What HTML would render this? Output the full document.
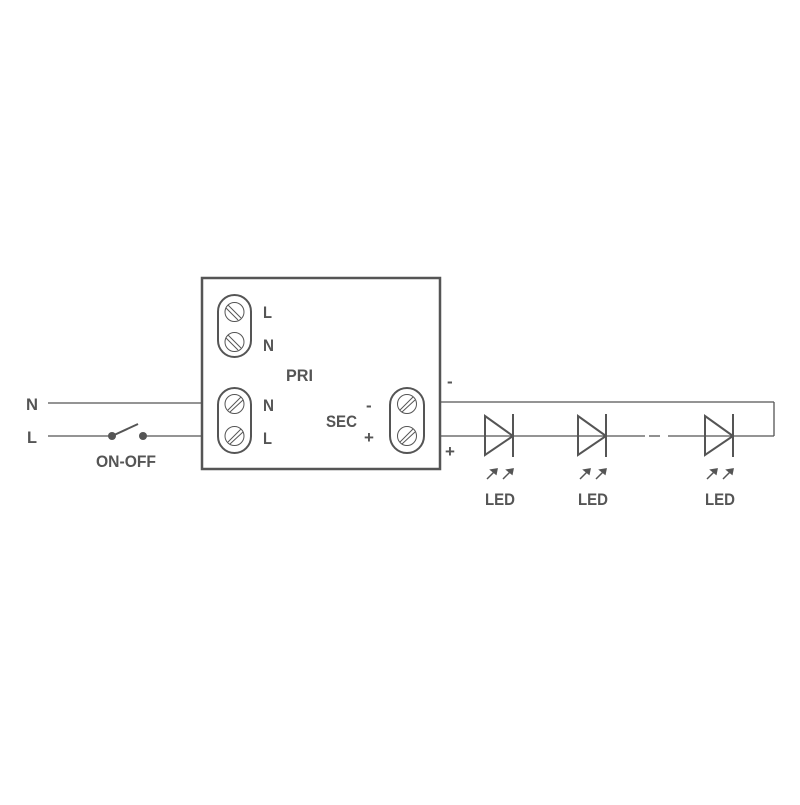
<!DOCTYPE html>
<html><head><style>body{margin:0;background:#fff}</style></head><body>
<svg width="800" height="800" viewBox="0 0 800 800" xmlns="http://www.w3.org/2000/svg">
<g stroke="#555" fill="none" stroke-width="1.3">
<line x1="48" y1="403" x2="202" y2="403"/>
<line x1="48" y1="436" x2="112" y2="436"/>
<line x1="143" y1="436" x2="202" y2="436"/>
<line x1="112" y1="436" x2="138" y2="424" stroke-width="2"/>
<line x1="440" y1="402" x2="774" y2="402"/>
<line x1="774" y1="402" x2="774" y2="436"/>
<line x1="440" y1="436" x2="645" y2="436"/>
<line x1="668" y1="436" x2="774" y2="436"/>
</g>
<line x1="649" y1="436" x2="660" y2="436" stroke="#555" stroke-width="1.3"/>
<circle cx="112" cy="436" r="4" fill="#555"/><circle cx="143" cy="436" r="4" fill="#555"/>
<rect x="202" y="278" width="238" height="191" fill="#fff" stroke="#555" stroke-width="2.5"/>
<g stroke="#555" fill="#fff" stroke-width="2">
<rect x="218" y="295" width="33" height="62" rx="16.5"/>
<rect x="218" y="388" width="33" height="65" rx="16.5"/>
<rect x="390" y="388" width="34" height="65" rx="17"/>
</g>
<g stroke="#555" fill="none" stroke-width="1">
<circle cx="234.5" cy="312" r="9.5"/><circle cx="234.5" cy="342" r="9.5"/>
<line x1="228" y1="305" x2="241" y2="318"/><line x1="226" y1="308" x2="238" y2="320"/>
<line x1="228" y1="335" x2="241" y2="348"/><line x1="226" y1="338" x2="238" y2="350"/>
<circle cx="234.5" cy="404" r="9.5"/><circle cx="234.5" cy="436" r="9.5"/>
<line x1="228" y1="410" x2="241" y2="397"/><line x1="230" y1="412" x2="243" y2="400"/>
<line x1="228" y1="442" x2="241" y2="429"/><line x1="230" y1="444" x2="243" y2="432"/>
<circle cx="407" cy="404" r="9.5"/><circle cx="407" cy="436" r="9.5"/>
<line x1="400" y1="410" x2="413" y2="397"/><line x1="402" y1="412" x2="415" y2="400"/>
<line x1="400" y1="442" x2="413" y2="429"/><line x1="402" y1="444" x2="415" y2="432"/>
</g>
<g stroke="#555" fill="none" stroke-width="2">
<path d="M485 416 L513 436 L485 455 Z"/><line x1="513" y1="414" x2="513" y2="457"/>
<path d="M578 416 L606 436 L578 455 Z"/><line x1="606" y1="414" x2="606" y2="457"/>
<path d="M705 416 L733 436 L705 455 Z"/><line x1="733" y1="414" x2="733" y2="457"/>
</g>
<g stroke="#555" stroke-width="1.5" fill="#555">
<line x1="487" y1="479" x2="495" y2="471"/><path d="M497 469 L491 470 L496 474 Z"/>
<line x1="503" y1="479" x2="511" y2="471"/><path d="M513 469 L507 470 L512 474 Z"/>
<line x1="580" y1="479" x2="588" y2="471"/><path d="M590 469 L584 470 L589 474 Z"/>
<line x1="596" y1="479" x2="604" y2="471"/><path d="M606 469 L600 470 L605 474 Z"/>
<line x1="707" y1="479" x2="715" y2="471"/><path d="M717 469 L711 470 L716 474 Z"/>
<line x1="723" y1="479" x2="731" y2="471"/><path d="M733 469 L727 470 L732 474 Z"/>
</g>
<g font-family="Liberation Sans, sans-serif" font-weight="bold" fill="#555" font-size="17" lengthAdjust="spacingAndGlyphs">
<text x="26" y="410" textLength="12" lengthAdjust="spacingAndGlyphs">N</text>
<text x="27" y="443" textLength="10" lengthAdjust="spacingAndGlyphs">L</text>
<text x="96" y="467" textLength="60" lengthAdjust="spacingAndGlyphs">ON-OFF</text>
<text x="263" y="318" textLength="9" lengthAdjust="spacingAndGlyphs">L</text>
<text x="263" y="351" textLength="11" lengthAdjust="spacingAndGlyphs">N</text>
<text x="286" y="381" textLength="27" lengthAdjust="spacingAndGlyphs">PRI</text>
<text x="263" y="411" textLength="11" lengthAdjust="spacingAndGlyphs">N</text>
<text x="263" y="444" textLength="9" lengthAdjust="spacingAndGlyphs">L</text>
<text x="326" y="427" textLength="31" lengthAdjust="spacingAndGlyphs">SEC</text>
<text x="366" y="411">-</text><text x="364" y="443">+</text>
<text x="447" y="387">-</text><text x="445" y="457">+</text>
<text x="485" y="505" textLength="30" lengthAdjust="spacingAndGlyphs">LED</text>
<text x="578" y="505" textLength="30" lengthAdjust="spacingAndGlyphs">LED</text>
<text x="705" y="505" textLength="30" lengthAdjust="spacingAndGlyphs">LED</text>
</g>
</svg>
</body></html>
